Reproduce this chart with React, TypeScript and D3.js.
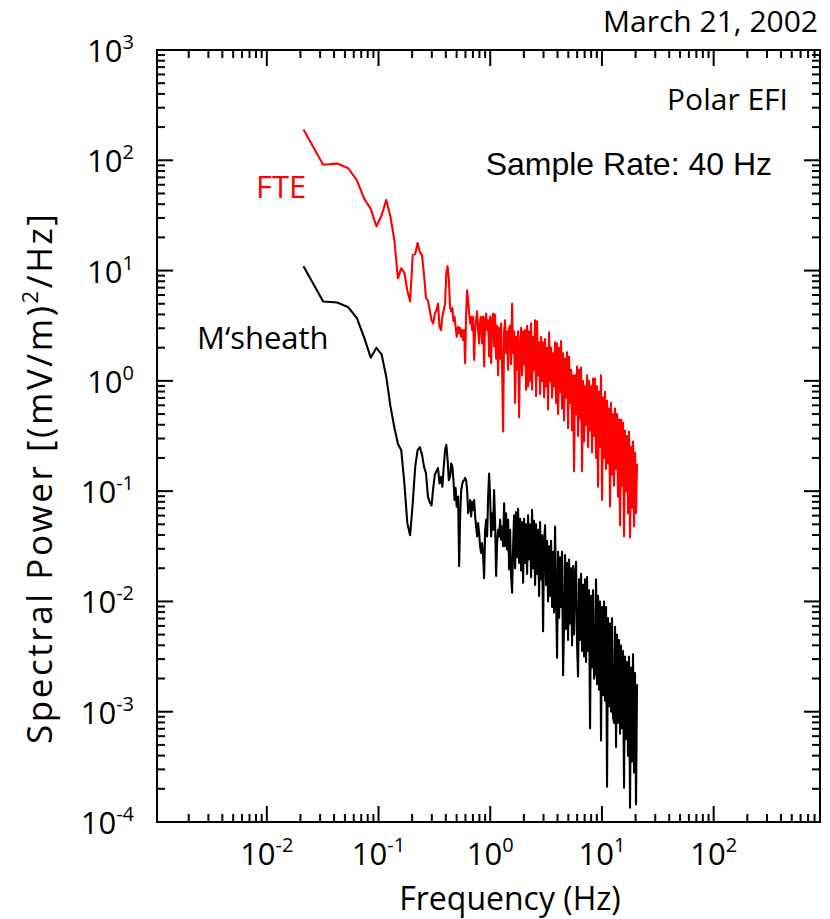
import React from 'react';
import * as d3 from 'd3';

const W = 830;
const H = 919;
const plot = { left: 157, right: 820, top: 50, bottom: 822 };

const xDomain: [number, number] = [0.00104, 895];
const yDomain: [number, number] = [1e-4, 1e3];

const xDecades = [-3, -2, -1, 0, 1, 2];
const yDecades = [-4, -3, -2, -1, 0, 1, 2, 3];
const xLabelExps = ['-2', '-1', '0', '1', '2'];
const yLabelExps = ['3', '2', '1', '0', '-1', '-2', '-3', '-4'];

// FFT bin spacing; the first plotted bin is 2*binWidth
const binWidth = 0.01065;
const denseRange: [number, number] = [0.516, 20.6];

// log10 of spectral power, (mV/m)^2/Hz
const fteLow = [
  2.28, 1.96, 1.97, 1.93, 1.82, 1.65, 1.56, 1.40, 1.50, 1.64, 1.49, 1.28, 0.93, 1.02, 0.98, 0.82,
  0.72, 1.14, 1.15, 1.25, 1.17, 1.14, 0.96, 0.75, 0.73, 0.64, 0.55, 0.52, 0.61, 0.64, 0.70, 0.49,
  0.46, 0.58, 0.64, 0.70, 0.98, 1.04, 0.92, 0.67, 0.63, 0.66, 0.54, 0.58, 0.49, 0.40
];
const fteDense = [
  0.49, 0.43, 0.48, 0.40, 0.46, 0.37, 0.46, 0.16, 0.61, 0.82, 0.73, 0.61, 0.52, 0.58, 0.46, 0.58,
  0.19, 0.46, 0.55, 0.63, 0.46, 0.34, 0.55, 0.58, 0.34, 0.58, 0.13, 0.55, 0.61, 0.46, 0.55, 0.22,
  0.58, 0.16, 0.55, 0.61, 0.31, 0.60, 0.20, 0.50, 0.05, 0.48, 0.20, 0.52, 0.10, -0.46, 0.45, 0.55,
  0.25, 0.45, 0.10, 0.48, 0.50, 0.15, 0.70, 0.25, 0.45, -0.20, 0.40, 0.10, 0.45, -0.33, 0.30, 0.48,
  0.05, 0.45, 0.15, 0.46, -0.08, 0.50, -0.05, 0.45, 0.00, 0.52, -0.08, 0.40, 0.10, 0.55, -0.14, 0.54,
  0.05, 0.35, -0.12, 0.40, 0.00, 0.35, -0.15, 0.38, -0.05, 0.30, -0.26, 0.44, 0.00, 0.30, -0.15, 0.25,
  -0.05, 0.35, -0.20, 0.34, -0.30, 0.30, -0.10, 0.36, -0.25, 0.25, -0.36, 0.20, -0.15, 0.26, -0.43, 0.22,
  -0.20, 0.10, -0.45, 0.05, -0.82, 0.05, -0.30, 0.13, -0.50, 0.10, -0.35, 0.12, -0.82, 0.00, -0.55, -0.05,
  -0.40, 0.05, -0.60, 0.00, -0.45, -0.05, -0.65, 0.02, -0.50, 0.02, -0.70, -0.05, -0.96, -0.10, -0.60, 0.05,
  -1.08, -0.15, -0.70, -0.10, -0.80, -0.18, -0.75, -0.25, -1.14, -0.20, -0.85, -0.30, -0.95, -0.25, -0.80, -0.30,
  -1.05, -0.35, -1.31, -0.35, -0.95, -0.38, -1.41, -0.45, -1.00, -0.50, -1.20, -0.46, -1.42, -0.60, -1.15, -0.55,
  -1.32, -0.65, -1.20, -0.75
];

const sheathLow = [
  1.04, 0.72, 0.71, 0.67, 0.57, 0.39, 0.21, 0.30, 0.24, 0.04, -0.23, -0.42, -0.57, -0.63, -0.93, -1.29,
  -1.40, -1.11, -0.78, -0.63, -0.60, -0.67, -0.78, -0.84, -1.05, -1.10, -1.13, -0.97, -0.85, -0.82, -0.79, -0.93,
  -0.87, -0.96, -0.78, -0.63, -0.58, -0.72, -0.90, -0.87, -0.75, -0.78, -0.90, -1.08, -0.97, -1.14
];
const sheathDense = [
  -1.05, -1.68, -1.23, -1.00, -0.94, -0.91, -0.90, -0.88, -0.90, -0.99, -1.20, -1.14, -1.08, -1.23, -1.10, -1.17,
  -1.08, -1.23, -1.32, -1.41, -1.29, -1.38, -1.50, -1.56, -1.47, -1.59, -1.79, -1.35, -1.26, -1.41, -1.05, -0.84,
  -1.05, -1.41, -1.20, -1.35, -0.99, -1.29, -1.77, -1.47, -1.35, -1.41, -1.26, -1.44, -1.32, -1.50, -1.11, -1.50,
  -1.20, -1.53, -1.26, -1.71, -1.35, -1.77, -1.92, -1.50, -1.22, -1.70, -1.19, -1.60, -1.16, -1.65, -1.25, -1.72,
  -1.28, -1.83, -1.25, -1.65, -1.30, -1.75, -1.22, -1.62, -1.30, -1.78, -1.17, -1.70, -1.27, -1.85, -1.30, -1.75,
  -1.35, -1.95, -1.28, -1.80, -1.40, -2.27, -1.45, -1.31, -1.85, -1.45, -2.00, -1.50, -1.95, -1.45, -2.05, -1.55,
  -2.10, -1.32, -1.95, -2.51, -1.55, -2.15, -1.60, -2.05, -1.55, -2.67, -2.20, -1.58, -2.25, -1.65, -2.35, -1.62,
  -2.20, -1.70, -2.40, -1.68, -2.30, -1.75, -1.64, -2.40, -2.68, -1.80, -2.35, -1.75, -2.45, -1.85, -2.50, -1.80,
  -2.55, -1.78, -2.45, -1.90, -3.15, -1.95, -2.60, -1.90, -2.70, -2.65, -1.80, -2.75, -1.95, -2.80, -2.00, -3.26,
  -2.05, -2.85, -2.00, -2.90, -2.05, -3.68, -2.15, -2.95, -2.20, -3.00, -2.15, -3.05, -3.10, -2.23, -3.32, -2.30,
  -3.10, -2.35, -3.20, -2.40, -3.15, -2.45, -3.69, -2.50, -3.25, -2.55, -3.40, -2.50, -3.87, -2.60, -3.45, -2.48,
  -3.55, -2.65, -3.84, -2.75
];

const font = '"Open Sans", "Noto Sans", sans-serif';

function buildSeries(low: number[], dense: number[]): [number, number][] {
  const pts: [number, number][] = low.map((v, i) => [(i + 2) * binWidth, Math.pow(10, v)]);
  const n = dense.length;
  const ratio = denseRange[1] / denseRange[0];
  dense.forEach((v, j) => {
    pts.push([denseRange[0] * Math.pow(ratio, j / (n - 1)), Math.pow(10, v)]);
  });
  return pts;
}

export default function App() {
  const x = d3.scaleLog().domain(xDomain).range([plot.left, plot.right]);
  const y = d3.scaleLog().domain(yDomain).range([plot.bottom, plot.top]);

  const line = d3.line<[number, number]>()
    .x(d => x(d[0]))
    .y(d => y(d[1]));

  const fte = buildSeries(fteLow, fteDense);
  const sheath = buildSeries(sheathLow, sheathDense);

  // tick positions (value, major?)
  const xTicks: { v: number; major: boolean }[] = [];
  xDecades.forEach(e => {
    for (let m = 1; m <= 9; m++) {
      const v = m * Math.pow(10, e);
      if (v > xDomain[0] && v < xDomain[1]) xTicks.push({ v, major: m === 1 });
    }
  });
  const yTicks: { v: number; major: boolean }[] = [];
  yDecades.forEach(e => {
    for (let m = 1; m <= 9; m++) {
      const v = m * Math.pow(10, e);
      if (v >= yDomain[0] && v <= yDomain[1]) yTicks.push({ v, major: m === 1 });
    }
  });

  const major = 16;
  const minor = 8;

  return (
    <svg width={W} height={H} style={{ position: 'absolute', left: 0, top: 0, background: '#fff' }}
      fontFamily={font}>
      {/* frame */}
      <rect x={plot.left} y={plot.top} width={plot.right - plot.left} height={plot.bottom - plot.top}
        fill="none" stroke="#000" strokeWidth={2} />

      {/* x ticks, bottom and top, pointing inward */}
      {xTicks.map((t, i) => {
        const len = t.major ? major : minor;
        const px = x(t.v);
        return (
          <g key={'xt' + i} stroke="#000" strokeWidth={2}>
            <line x1={px} x2={px} y1={plot.bottom} y2={plot.bottom - len} />
            <line x1={px} x2={px} y1={plot.top} y2={plot.top + len} />
          </g>
        );
      })}

      {/* y ticks, left and right */}
      {yTicks.map((t, i) => {
        const len = t.major ? major : minor;
        const py = y(t.v);
        return (
          <g key={'yt' + i} stroke="#000" strokeWidth={2}>
            <line x1={plot.left} x2={plot.left + len} y1={py} y2={py} />
            <line x1={plot.right} x2={plot.right - len} y1={py} y2={py} />
          </g>
        );
      })}

      {/* x tick labels */}
      {xLabelExps.map(e => (
        <text key={'xl' + e} x={x(Math.pow(10, +e))} y={865} textAnchor="middle" fontSize={31} fill="#000">
          10<tspan dy={-13} fontSize={20}>{e}</tspan>
        </text>
      ))}

      {/* y tick labels */}
      {yLabelExps.map(e => (
        <text key={'yl' + e} x={134} y={y(Math.pow(10, +e)) + 12} textAnchor="end" fontSize={31} fill="#000">
          10<tspan dy={-13} fontSize={20}>{e}</tspan>
        </text>
      ))}

      {/* spectra */}
      <path d={line(sheath) || ''} fill="none" stroke="#000" strokeWidth={2.1} strokeLinejoin="round" />
      <path d={line(fte) || ''} fill="none" stroke="#ff0000" strokeWidth={2.1} strokeLinejoin="round" />

      {/* annotations */}
      <text x={818} y={32} textAnchor="end" fontSize={30} fill="#000">March 21, 2002</text>
      <text x={788} y={110} textAnchor="end" fontSize={30} fill="#000">Polar EFI</text>
      <text x={772} y={175} textAnchor="end" fontSize={32} fill="#000"
        fontFamily='"Liberation Sans", Arial, sans-serif'>Sample Rate: 40 Hz</text>
      <text x={256} y={198} fontSize={31} fill="#ff0000">FTE</text>
      <text x={197} y={349} fontSize={31} fill="#000">M{'\u2018'}sheath</text>

      {/* axis titles */}
      <text x={510} y={910} textAnchor="middle" fontSize={32} fill="#000">
        Frequency (Hz)
      </text>
      <text transform="translate(52, 479) rotate(-90)" textAnchor="middle" fontSize={35} fill="#000"
        textLength={530} lengthAdjust="spacing">
        Spectral Power [(mV/m)<tspan dy={-14} fontSize={22}>2</tspan><tspan dy={14}>/Hz]</tspan>
      </text>
    </svg>
  );
}
